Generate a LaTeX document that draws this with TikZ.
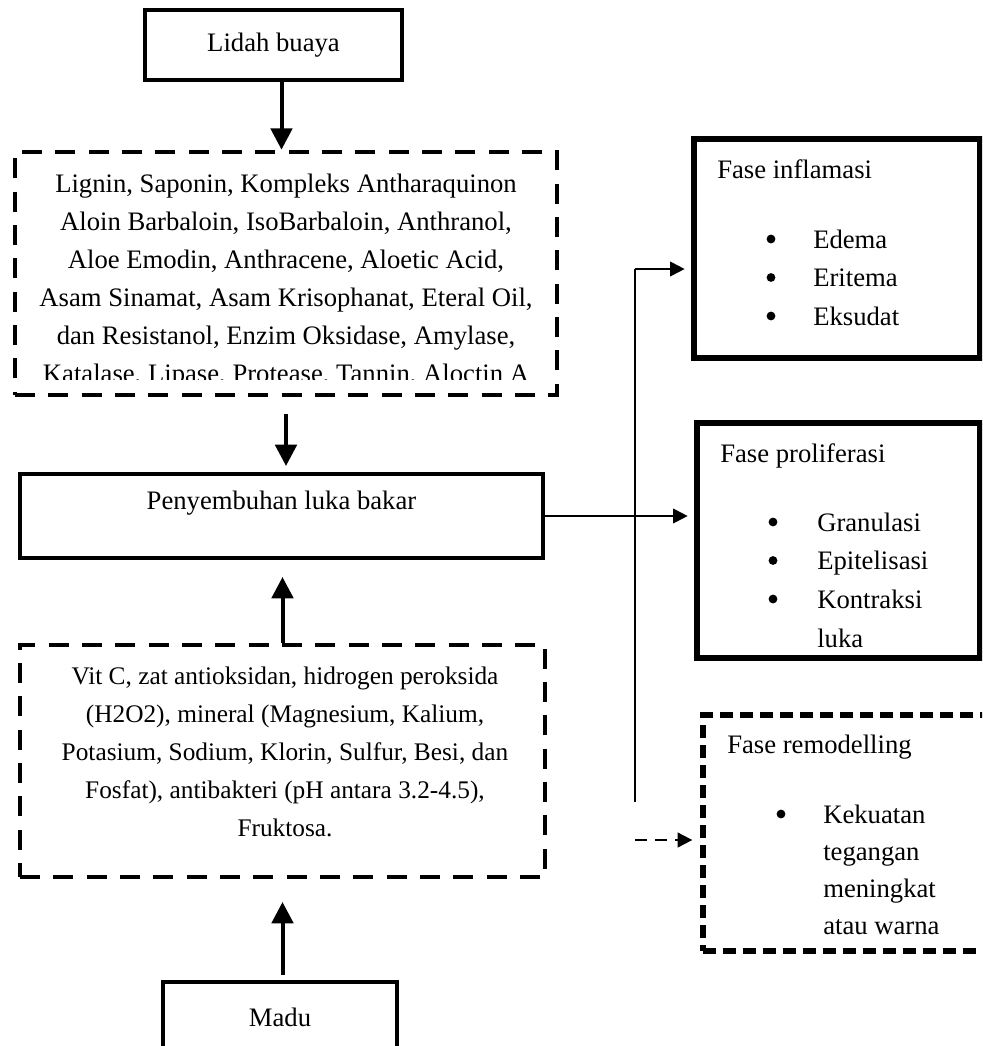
\documentclass[tikz,border=0pt]{standalone}
\usepackage{fontspec}
\setmainfont{Liberation Serif}
\usepackage{tikz}
\usetikzlibrary{calc, arrows.meta, positioning, shapes}

\begin{document}
\begin{tikzpicture}[x=0.75pt, y=-0.75pt, >=latex]
		\tikzstyle{kotak} = [draw=black, line width=3pt, rectangle, inner sep=0pt]
		\tikzstyle{kotakputus} = [kotak, line width=3.5pt, dash pattern=on 15pt off 10pt]
		\tikzstyle{isi} = [font=\fontsize{20}{28.5}\selectfont, align=center]
		\tikzstyle{item} = [draw=none, font=\fontsize{20}{28}\selectfont, anchor=base west, inner sep=0pt]
		\tikzstyle{titik} = [fill=black]
		\tikzstyle{bigarrow} = [line width=3pt, -{Triangle[length=16pt, width=16pt]}]
		\tikzstyle{arrow} = [line width=1.5pt, -{Triangle[length=11pt, width=11pt]}]

		\useasboundingbox (0, 0) rectangle (982, 1046);
		\clip (0, 0) rectangle (982, 1046);

		\node[kotak, isi, minimum width=192.75pt, minimum height=52.5pt] 	at (273.5, 45)	(lidah) 	{Lidah buaya};
		\node[kotakputus, minimum width=406.5pt, minimum height=182.25pt] 	at (286, 273.5)	(lidahisi) 	{};
		\begin{scope}
			\clip (lidahisi.north west) rectangle ([yshift=13.5pt]lidahisi.south east);
			\node[isi] 	at (286, 281)	(lidahteks) 	{Lignin, Saponin, Kompleks Antharaquinon\\
				Aloin Barbaloin, IsoBarbaloin, Anthranol,\\
				Aloe Emodin, Anthracene, Aloetic Acid,\\
				Asam Sinamat, Asam Krisophanat, Eteral Oil,\\
				dan Resistanol, Enzim Oksidase, Amylase,\\
				Katalase, Lipase, Protease, Tannin, Aloctin A};
		\end{scope}

		\node[kotak, isi, minimum width=392.25pt, minimum height=63pt, text height=14pt, text depth=24pt] 	at (281.5, 516)	(sembuh) 	{Penyembuhan luka bakar};

		\node[kotakputus, minimum width=393.75pt, minimum height=174pt] 	at (282.5, 761)	(zatmadu) 	{};
		\node[isi, font=\fontsize{19}{28.4}\selectfont] 	at (285, 752)	(madteks) 	{Vit C, zat antioksidan, hidrogen peroksida\\
			(H2O2), mineral (Magnesium, Kalium,\\
			Potasium, Sodium, Klorin, Sulfur, Besi, dan\\
			Fosfat), antibakteri (pH antara 3.2-4.5),\\
			Fruktosa.};

		\node[kotak, isi, minimum width=175.5pt, minimum height=52.5pt] 	at (280, 1017)	(madu) 	{Madu};

		\node[kotak, line width=4pt, minimum width=214.5pt, minimum height=164.25pt] 	at (837, 248.5)	(inflamasi) 	{};
		\node[item] 	at (717, 178)	(judulinf) 	{Fase inflamasi};
		\foreach \teks [count=\i] in {Edema, Eritema, Eksudat} {
			\node[item] 	at (813, {248 + 38.5*(\i-1)})	(inf\i) 	{\teks};
			\fill[titik] ([xshift=-31.5pt, yshift=6.75pt]inf\i.base west) circle (3.3pt);
		}

		\node[kotak, line width=4pt, minimum width=212.25pt, minimum height=176.25pt] 	at (838.5, 540.5)	(proliferasi) 	{};
		\node[item] 	at (720, 462)	(judulpro) 	{Fase proliferasi};
		\foreach \teks [count=\i] in {Granulasi, Epitelisasi, Kontraksi} {
			\node[item] 	at (817, {531 + 38.5*(\i-1)})	(pro\i) 	{\teks};
			\fill[titik] ([xshift=-33pt, yshift=6.75pt]pro\i.base west) circle (3.3pt);
		}
		\node[item] 	at (817, 647)	(pro4) 	{luka};

		\node[kotakputus, line width=4pt, dash pattern=on 10pt off 5pt, minimum width=230.25pt, minimum height=177pt] 	at (856.5, 833)	(remodelling) 	{};
		\node[item] 	at (727, 753)	(judulrem) 	{Fase remodelling};
		\node[item] 	at (823, 823)	(rem1) 	{Kekuatan};
		\fill[titik] ([xshift=-31.5pt, yshift=6.75pt]rem1.base west) circle (3.3pt);
		\foreach \teks [count=\i from 2] in {tegangan, meningkat, atau warna}
			\node[item] 	at (823, {823 + 37.3*(\i-1)})	(rem\i) 	{\teks};

		\coordinate (cabang) at (635, 269);
		\coordinate (ujung) at (635, 802);
		\coordinate (putus) at (635, 840);

		\path[bigarrow]
		([xshift=6pt]lidah.south) 	edge 	([xshift=6pt]lidah.south |- lidahisi.north)
		(lidahisi.south) 	edge[shorten <=12.75pt, shorten >=4.5pt] 	(lidahisi.south |- sembuh.north)
		(zatmadu.north) 	edge[shorten >=12.75pt] 	(zatmadu.north |- sembuh.south)
		(zatmadu.south |- madu.north) 	edge[shorten <=3.75pt, shorten >=17pt] 	(zatmadu.south);

		\draw[line width=1.5pt] (cabang) -- (ujung);
		\path[arrow]
		(cabang) 	edge[shorten >=5pt] 	(cabang -| inflamasi.west)
		(sembuh.east) 	edge[shorten >=5pt] 	(sembuh.east -| proliferasi.west);
		\path[arrow, dash pattern=on 9pt off 6pt]
		(putus) 	edge[shorten >=6pt] 	(putus -| remodelling.west);
	\end{tikzpicture}
\end{document}
